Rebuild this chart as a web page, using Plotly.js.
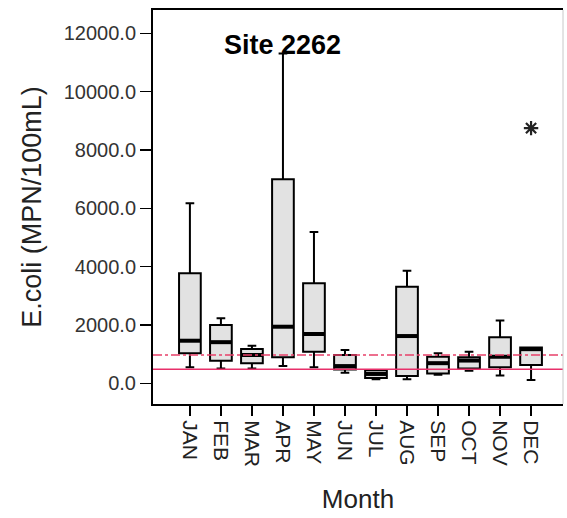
<!DOCTYPE html>
<html>
<head>
<meta charset="utf-8">
<script src="https://cdn.plot.ly/plotly-3.0.1.min.js"></script>
<style>html,body{margin:0;padding:0;background:#fff;}</style>
</head>
<body>
<div id="chart" style="width:567px;height:518px;"></div>
<script>
const months = ["JAN","FEB","MAR","APR","MAY","JUN","JUL","AUG","SEP","OCT","NOV","DEC"];
const upperWhisker = [6170, 2230, 1290, 11310, 5190, 1140, 460, 3860, 1030, 1080, 2150, 1230];
const q3Values     = [3770, 2000, 1180, 7000, 3430, 970, 450, 3310, 910, 890, 1580, 1230];
const medianValues = [1460, 1410, 970, 1940, 1690, 590, 320, 1620, 690, 780, 910, 1170];
const q1Values     = [1030, 770, 690, 890, 1080, 470, 180, 250, 340, 510, 550, 630];
const lowerWhisker = [550, 510, 510, 590, 550, 360, 140, 140, 290, 430, 270, 110];
const outlierMonths = ["DEC"];
const outlierValues = [8750];
const refLineUpper = 970;
const refLineLower = 480;

const boxWidth = 0.7;

const traces = [
  {
    type: "box",
    x: months,
    q1: q1Values,
    median: medianValues,
    q3: q3Values,
    lowerfence: lowerWhisker,
    upperfence: upperWhisker,
    boxpoints: false,
    width: boxWidth,
    whiskerwidth: 0.4,
    fillcolor: "#e2e2e2",
    line: {color: "#000", width: 2},
    hoverinfo: "skip",
    showlegend: false
  },
  {
    type: "scatter",
    mode: "markers",
    x: outlierMonths,
    y: outlierValues,
    marker: {symbol: "asterisk-open", size: 12, color: "#222", line: {color: "#222", width: 2.2}},
    showlegend: false
  }
];

const shapes = [];
months.forEach((m, i) => {
  shapes.push({
    type: "line", xref: "x", yref: "y",
    x0: i - boxWidth / 2, x1: i + boxWidth / 2,
    y0: medianValues[i], y1: medianValues[i],
    line: {color: "#000", width: 4}
  });
});
shapes.push({type: "line", xref: "paper", yref: "y", x0: 0, x1: 1, y0: refLineUpper, y1: refLineUpper,
  line: {color: "#e8406a", width: 1.5, dash: "dashdot"}, layer: "above"});
shapes.push({type: "line", xref: "paper", yref: "y", x0: 0, x1: 1, y0: refLineLower, y1: refLineLower,
  line: {color: "#e8306a", width: 1.5}, layer: "above"});
shapes.push({type: "line", xref: "paper", yref: "paper", x0: 1, x1: 1, y0: 0, y1: 1,
  line: {color: "#c8c8c8", width: 1}});

const font = "Liberation Sans, Arial, sans-serif";

const layout = {
  width: 567, height: 518,
  margin: {l: 153, r: 4, t: 10, b: 114},
  paper_bgcolor: "#fff",
  plot_bgcolor: "#fff",
  font: {family: font, color: "#222"},
  showlegend: false,
  xaxis: {
    type: "category",
    categoryorder: "array",
    categoryarray: months,
    range: [-1.19, 12.03],
    showgrid: false,
    zeroline: false,
    showline: true,
    linecolor: "#000",
    linewidth: 2,
    mirror: true,
    ticks: "outside",
    ticklen: 10,
    tickwidth: 1.5,
    tickcolor: "#000",
    tickangle: 90,
    tickfont: {size: 21, family: font, color: "#222"},
    title: {text: "Month", font: {size: 26, family: font, color: "#222"}, standoff: 24}
  },
  yaxis: {
    range: [-710, 12800],
    dtick: 2000,
    tick0: 0,
    tickformat: ".1f",
    showgrid: false,
    zeroline: false,
    showline: true,
    linecolor: "#000",
    linewidth: 2,
    ticks: "outside",
    ticklen: 11,
    tickwidth: 1.5,
    tickcolor: "#000",
    tickfont: {size: 20, family: font, color: "#333"},
    title: {text: "E.coli (MPN/100mL)", font: {size: 27, family: font, color: "#222"}, standoff: 14}
  },
  shapes: shapes,
  annotations: [
    {
      text: "<b>Site 2262</b>",
      xref: "paper", yref: "paper",
      x: 0.315, y: 0.911,
      xanchor: "center", yanchor: "middle",
      showarrow: false,
      font: {size: 27, family: font, color: "#000"}
    }
  ]
};

Plotly.newPlot("chart", traces, layout, {displayModeBar: false, staticPlot: true});
</script>
</body>
</html>
